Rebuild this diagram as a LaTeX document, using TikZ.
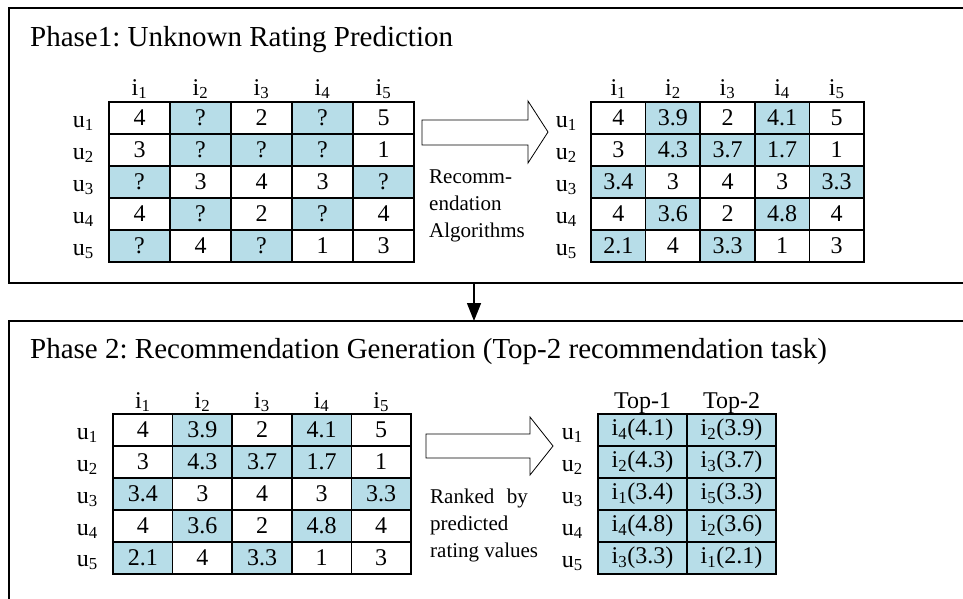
\documentclass[tikz,border=0pt]{standalone}
\usepackage{fontspec}
\setmainfont{Liberation Serif}
\usepackage{tikz}
\usetikzlibrary{positioning}
\usetikzlibrary{arrows.meta}
\frenchspacing

\definecolor{cellblue}{HTML}{B7DDE8}
\newcommand\titlefont{\fontsize{29}{34}\selectfont}
\newcommand\cellfont{\fontsize{24}{28}\selectfont}
\newcommand\sidefont{\fontsize{21}{27}\selectfont}

\begin{document}
\begin{tikzpicture}[x=1pt, y=-1pt,
       cell/.style={draw, line width=1.5pt, inner sep=0, outer sep=0,
                    minimum height=32, font=\cellfont},
       hit/.style={cell, fill=cellblue},
       lbl/.style={inner sep=0, font=\cellfont},
       phase/.style={draw, line width=1.5pt, outer sep=0, anchor=north west,
                     minimum width=1000},
       bigarrow/.style={draw, line width=0.8pt, fill=white}]

       \useasboundingbox (0,0) rectangle (963,598);
       \clip (0,0) rectangle (963,598);

       % phase boxes
       \node[phase, minimum height=275] (phaseA) at (9,8) {};
       \node[phase, minimum height=300] (phaseB) at (9,321) {};
       \node[anchor=base west, inner sep=0, font=\titlefont] (titleA) at (30,46) {Phase1: Unknown Rating Prediction};
       \node[anchor=base west, inner sep=0, font=\titlefont] (titleB) at (30,358) {Phase 2: Recommendation Generation (Top-2 recommendation task)};

       \coordinate (drop) at (474,0);
       \draw[line width=1.5pt, -{Triangle[length=18pt, width=14pt]}] (phaseA.south -| drop) -- (phaseB.north -| drop);

       % table A: known ratings
       \begin{scope}[cell/.append style={minimum width=61}]
       \node[lbl, anchor=base] (ia1) at (139.5,95) {i\textsubscript{1}};
       \node[lbl, anchor=base] (ia2) at (200.5,95) {i\textsubscript{2}};
       \node[lbl, anchor=base] (ia3) at (261.5,95) {i\textsubscript{3}};
       \node[lbl, anchor=base] (ia4) at (322.5,95) {i\textsubscript{4}};
       \node[lbl, anchor=base] (ia5) at (383.5,95) {i\textsubscript{5}};
       \node[lbl, anchor=base east] (ua1) at (94,127) {u\textsubscript{1}};
       \node[lbl, anchor=base east] (ua2) at (94,159) {u\textsubscript{2}};
       \node[lbl, anchor=base east] (ua3) at (94,191) {u\textsubscript{3}};
       \node[lbl, anchor=base east] (ua4) at (94,223) {u\textsubscript{4}};
       \node[lbl, anchor=base east] (ua5) at (94,255) {u\textsubscript{5}};

       \node[cell] (a11) at (139.5,118) {4};
       \node[hit]  (a12) at (200.5,118) {?};
       \node[cell] (a13) at (261.5,118) {2};
       \node[hit]  (a14) at (322.5,118) {?};
       \node[cell] (a15) at (383.5,118) {5};
       \node[cell] (a21) at (139.5,150) {3};
       \node[hit]  (a22) at (200.5,150) {?};
       \node[hit]  (a23) at (261.5,150) {?};
       \node[hit]  (a24) at (322.5,150) {?};
       \node[cell] (a25) at (383.5,150) {1};
       \node[hit]  (a31) at (139.5,182) {?};
       \node[cell] (a32) at (200.5,182) {3};
       \node[cell] (a33) at (261.5,182) {4};
       \node[cell] (a34) at (322.5,182) {3};
       \node[hit]  (a35) at (383.5,182) {?};
       \node[cell] (a41) at (139.5,214) {4};
       \node[hit]  (a42) at (200.5,214) {?};
       \node[cell] (a43) at (261.5,214) {2};
       \node[hit]  (a44) at (322.5,214) {?};
       \node[cell] (a45) at (383.5,214) {4};
       \node[hit]  (a51) at (139.5,246) {?};
       \node[cell] (a52) at (200.5,246) {4};
       \node[hit]  (a53) at (261.5,246) {?};
       \node[cell] (a54) at (322.5,246) {1};
       \node[cell] (a55) at (383.5,246) {3};
       \end{scope}

       % table B: predicted ratings
       \begin{scope}[cell/.append style={minimum width=54.6}]
       \node[lbl, anchor=base] (ib1) at (618.3,95) {i\textsubscript{1}};
       \node[lbl, anchor=base] (ib2) at (672.9,95) {i\textsubscript{2}};
       \node[lbl, anchor=base] (ib3) at (727.5,95) {i\textsubscript{3}};
       \node[lbl, anchor=base] (ib4) at (782.1,95) {i\textsubscript{4}};
       \node[lbl, anchor=base] (ib5) at (836.7,95) {i\textsubscript{5}};
       \node[lbl, anchor=base east] (ub1) at (577,127) {u\textsubscript{1}};
       \node[lbl, anchor=base east] (ub2) at (577,159) {u\textsubscript{2}};
       \node[lbl, anchor=base east] (ub3) at (577,191) {u\textsubscript{3}};
       \node[lbl, anchor=base east] (ub4) at (577,223) {u\textsubscript{4}};
       \node[lbl, anchor=base east] (ub5) at (577,255) {u\textsubscript{5}};

       \node[cell] (b11) at (618.3,118) {4};
       \node[hit]  (b12) at (672.9,118) {3.9};
       \node[cell] (b13) at (727.5,118) {2};
       \node[hit]  (b14) at (782.1,118) {4.1};
       \node[cell] (b15) at (836.7,118) {5};
       \node[cell] (b21) at (618.3,150) {3};
       \node[hit]  (b22) at (672.9,150) {4.3};
       \node[hit]  (b23) at (727.5,150) {3.7};
       \node[hit]  (b24) at (782.1,150) {1.7};
       \node[cell] (b25) at (836.7,150) {1};
       \node[hit]  (b31) at (618.3,182) {3.4};
       \node[cell] (b32) at (672.9,182) {3};
       \node[cell] (b33) at (727.5,182) {4};
       \node[cell] (b34) at (782.1,182) {3};
       \node[hit]  (b35) at (836.7,182) {3.3};
       \node[cell] (b41) at (618.3,214) {4};
       \node[hit]  (b42) at (672.9,214) {3.6};
       \node[cell] (b43) at (727.5,214) {2};
       \node[hit]  (b44) at (782.1,214) {4.8};
       \node[cell] (b45) at (836.7,214) {4};
       \node[hit]  (b51) at (618.3,246) {2.1};
       \node[cell] (b52) at (672.9,246) {4};
       \node[hit]  (b53) at (727.5,246) {3.3};
       \node[cell] (b54) at (782.1,246) {1};
       \node[cell] (b55) at (836.7,246) {3};
       \end{scope}

       \draw[bigarrow] (422,120) -- (528,120) -- (528,101) -- (548,132) -- (528,163) -- (528,145) -- (422,145) -- cycle;
       \node[anchor=base west, inner sep=0, align=left, font=\sidefont] (algo) at (429,237) {Recomm-\\endation\\Algorithms};

       % table C: completed matrix
       \begin{scope}[cell/.append style={minimum width=59.6}]
       \node[lbl, anchor=base] (ic1) at (142.8,408) {i\textsubscript{1}};
       \node[lbl, anchor=base] (ic2) at (202.4,408) {i\textsubscript{2}};
       \node[lbl, anchor=base] (ic3) at (262,408) {i\textsubscript{3}};
       \node[lbl, anchor=base] (ic4) at (321.6,408) {i\textsubscript{4}};
       \node[lbl, anchor=base] (ic5) at (381.2,408) {i\textsubscript{5}};
       \node[lbl, anchor=base east] (uc1) at (98,439) {u\textsubscript{1}};
       \node[lbl, anchor=base east] (uc2) at (98,471) {u\textsubscript{2}};
       \node[lbl, anchor=base east] (uc3) at (98,503) {u\textsubscript{3}};
       \node[lbl, anchor=base east] (uc4) at (98,535) {u\textsubscript{4}};
       \node[lbl, anchor=base east] (uc5) at (98,566) {u\textsubscript{5}};

       \node[cell] (c11) at (142.8,430) {4};
       \node[hit]  (c12) at (202.4,430) {3.9};
       \node[cell] (c13) at (262,430) {2};
       \node[hit]  (c14) at (321.6,430) {4.1};
       \node[cell] (c15) at (381.2,430) {5};
       \node[cell] (c21) at (142.8,462) {3};
       \node[hit]  (c22) at (202.4,462) {4.3};
       \node[hit]  (c23) at (262,462) {3.7};
       \node[hit]  (c24) at (321.6,462) {1.7};
       \node[cell] (c25) at (381.2,462) {1};
       \node[hit]  (c31) at (142.8,494) {3.4};
       \node[cell] (c32) at (202.4,494) {3};
       \node[cell] (c33) at (262,494) {4};
       \node[cell] (c34) at (321.6,494) {3};
       \node[hit]  (c35) at (381.2,494) {3.3};
       \node[cell] (c41) at (142.8,526) {4};
       \node[hit]  (c42) at (202.4,526) {3.6};
       \node[cell] (c43) at (262,526) {2};
       \node[hit]  (c44) at (321.6,526) {4.8};
       \node[cell] (c45) at (381.2,526) {4};
       \node[hit]  (c51) at (142.8,558) {2.1};
       \node[cell] (c52) at (202.4,558) {4};
       \node[hit]  (c53) at (262,558) {3.3};
       \node[cell] (c54) at (321.6,558) {1};
       \node[cell] (c55) at (381.2,558) {3};
       \end{scope}

       \draw[bigarrow] (426,434) -- (530,434) -- (530,417) -- (553,446) -- (530,475) -- (530,458) -- (426,458) -- cycle;
       \node[anchor=base west, inner sep=0, align=left, font=\sidefont] (rank) at (430,557) {Ranked\hspace{0.6em}by\\predicted\\rating values};

       % table D: top-2 lists
       \begin{scope}[cell/.append style={minimum width=89}]
       \node[lbl, anchor=base] (topA) at (642.5,408) {Top-1};
       \node[lbl, anchor=base] (topB) at (731.5,408) {Top-2};
       \node[lbl, anchor=base east] (ud1) at (583,439) {u\textsubscript{1}};
       \node[lbl, anchor=base east] (ud2) at (583,471) {u\textsubscript{2}};
       \node[lbl, anchor=base east] (ud3) at (583,503) {u\textsubscript{3}};
       \node[lbl, anchor=base east] (ud4) at (583,535) {u\textsubscript{4}};
       \node[lbl, anchor=base east] (ud5) at (583,567) {u\textsubscript{5}};

       \node[hit] (d11) at (642.5,430) {i\textsubscript{4}(4.1)};
       \node[hit] (d12) at (731.5,430) {i\textsubscript{2}(3.9)};
       \node[hit] (d21) at (642.5,462) {i\textsubscript{2}(4.3)};
       \node[hit] (d22) at (731.5,462) {i\textsubscript{3}(3.7)};
       \node[hit] (d31) at (642.5,494) {i\textsubscript{1}(3.4)};
       \node[hit] (d32) at (731.5,494) {i\textsubscript{5}(3.3)};
       \node[hit] (d41) at (642.5,526) {i\textsubscript{4}(4.8)};
       \node[hit] (d42) at (731.5,526) {i\textsubscript{2}(3.6)};
       \node[hit] (d51) at (642.5,558) {i\textsubscript{3}(3.3)};
       \node[hit] (d52) at (731.5,558) {i\textsubscript{1}(2.1)};
       \end{scope}

\end{tikzpicture}
\end{document}
